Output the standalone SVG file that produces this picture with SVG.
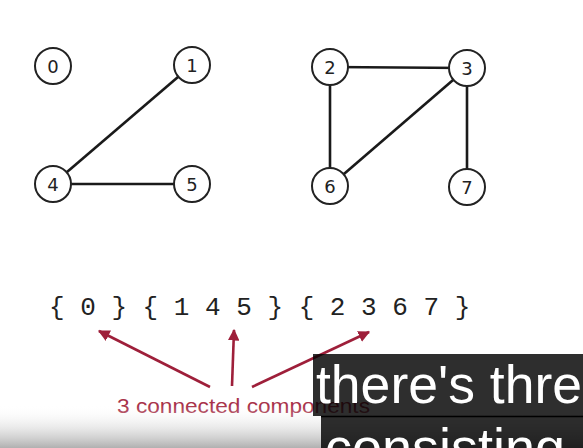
<svg xmlns="http://www.w3.org/2000/svg" width="583" height="448" viewBox="0 0 583 448">
<style>
.node circle{fill:#fff;stroke:#222;stroke-width:2}
.node text{font-family:"DejaVu Sans","Liberation Sans",sans-serif;font-size:18px;fill:#222;text-anchor:middle}
.edge{stroke:#1a1a1a;stroke-width:2.6;fill:none}
.arr{stroke:#9e1f3a;stroke-width:2.6;fill:none;marker-end:url(#ah)}
.sub{font-family:"Liberation Sans",Arial,sans-serif;font-size:54px;fill:#fff}
.box{fill:#000;fill-opacity:0.82}
</style>
<defs>
<marker id="ah" viewBox="0 0 10 10" refX="9" refY="5" markerWidth="4.5" markerHeight="4.5" orient="auto" markerUnits="strokeWidth">
<path d="M0,0 L10,5 L0,10 z" fill="#9e1f3a"/>
</marker>
<linearGradient id="bg" x1="0" y1="0" x2="0" y2="1">
<stop offset="0" stop-color="#fff" stop-opacity="0"/>
<stop offset="1" stop-color="#b0b0b0"/>
</linearGradient>
</defs>
<rect width="583" height="448" fill="#fff"/>
<g id="connectors">
<line class="edge" x1="192" y1="65" x2="53" y2="184"/>
<line class="edge" x1="53" y1="184" x2="192" y2="184"/>
<line class="edge" x1="330" y1="67" x2="467" y2="68"/>
<line class="edge" x1="330" y1="67" x2="330" y2="186"/>
<line class="edge" x1="467" y1="68" x2="330" y2="186"/>
<line class="edge" x1="467" y1="68" x2="467" y2="187"/>
</g>
<g id="n0" class="node"><circle cx="53" cy="66" r="18"/><text x="53" y="72.5">0</text></g>
<g id="n1" class="node"><circle cx="192" cy="65" r="18"/><text x="192" y="71.5">1</text></g>
<g id="n4" class="node"><circle cx="53" cy="184" r="18"/><text x="53" y="190.5">4</text></g>
<g id="n5" class="node"><circle cx="192" cy="184" r="18"/><text x="192" y="190.5">5</text></g>
<g id="n2" class="node"><circle cx="330" cy="67" r="18"/><text x="330" y="73.5">2</text></g>
<g id="n3" class="node"><circle cx="467" cy="68" r="18"/><text x="467" y="74.5">3</text></g>
<g id="n6" class="node"><circle cx="330" cy="186" r="18"/><text x="330" y="192.5">6</text></g>
<g id="n7" class="node"><circle cx="467" cy="187" r="18"/><text x="467" y="193.5">7</text></g>
<g id="sets">
<text x="49" y="315" font-family="Liberation Mono,DejaVu Sans Mono,monospace" font-size="26" fill="#222" xml:space="preserve">{ 0 } { 1 4 5 } { 2 3 6 7 }</text>
</g>
<g id="arrows">
<line class="arr" x1="210" y1="387" x2="99" y2="331"/>
<line class="arr" x1="232" y1="386" x2="234" y2="330"/>
<line class="arr" x1="252" y1="387" x2="369" y2="332"/>
</g>
<g id="label">
<text x="117" y="413" font-family="Liberation Sans,DejaVu Sans,sans-serif" font-size="20" fill="#a8324a" textLength="253" lengthAdjust="spacingAndGlyphs">3 connected components</text>
</g>
<rect x="0" y="405" width="583" height="43" fill="url(#bg)"/>
<g id="subtitles">
<rect class="box" x="313" y="354" width="270" height="62"/>
<text class="sub" x="316" y="403" textLength="266" lengthAdjust="spacingAndGlyphs">there's thre</text>
<rect class="box" x="321" y="416" width="262" height="32"/>
<line x1="321" y1="416.5" x2="583" y2="416.5" stroke="#000" stroke-width="1.5"/>
<text class="sub" x="325" y="466">consisting</text>
</g>
</svg>
